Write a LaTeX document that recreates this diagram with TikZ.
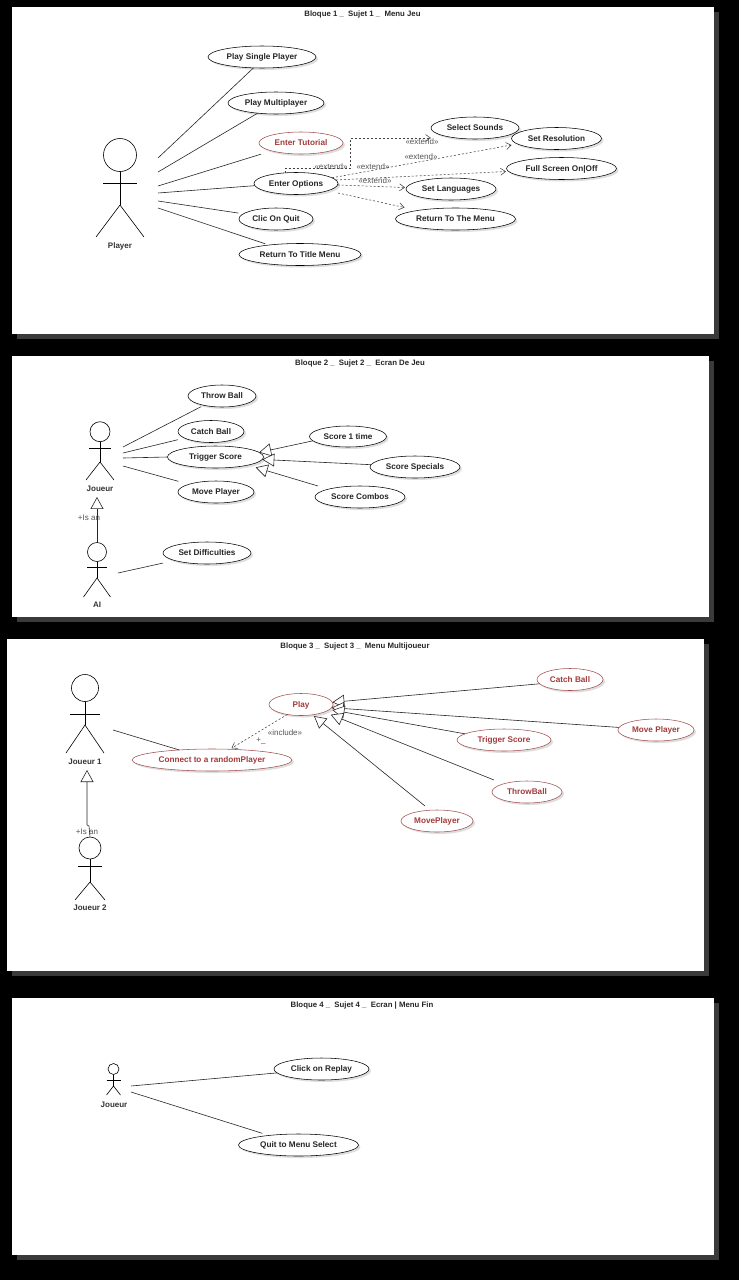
\documentclass[tikz,border=0pt]{standalone}
\usepackage{fontspec}
\setmainfont{Liberation Sans}
\usetikzlibrary{shapes.geometric,arrows.meta,shadows}
\definecolor{redtext}{HTML}{A23B3B}
\definecolor{rededge}{HTML}{A05050}
\definecolor{panelshadow}{HTML}{3A3A3A}
\definecolor{labelgray}{HTML}{555555}
\tikzset{
  x=1pt,y=-1pt,
  ucs/.style 2 args={minimum width=#1pt,minimum height=#2pt},
  uc/.style={ellipse,draw=black,line width=.55pt,fill=white,inner sep=0pt,outer sep=0pt,
    text height=6.5pt,text depth=.6pt,
    font=\fontsize{8.2}{9}\selectfont\bfseries,text=black!85,
    drop shadow={shadow xshift=2pt,shadow yshift=-2pt,fill=black!25}},
  ucred/.style={uc,draw=rededge,text=redtext},
  title/.style={font=\fontsize{7.8}{9}\selectfont\bfseries,text=black!85,inner sep=0pt},
  actorlabel/.style={font=\fontsize{8}{9}\selectfont\bfseries,text=black!80,inner sep=0pt},
  stereo/.style={font=\fontsize{8}{9}\selectfont,text=labelgray,inner sep=0pt},
  stick/.style={line width=.6pt,draw=black},
  assoc/.style={line width=.6pt,draw=black!85},
  gener/.style={line width=.6pt,draw=black!85,-{Triangle[open,fill=white,length=12pt,width=13pt]}},
  dep/.style={line width=.55pt,draw=black!75,dash pattern=on 2pt off 2pt,-{Straight Barb[length=5pt,width=7pt]}},
}
% name, cx, head cy, r, arm y, arm half, hip y, leg half, foot y
\newcommand{\umlactor}[9]{%
  \node[circle,draw=black,line width=.6pt,fill=white,inner sep=0pt,outer sep=0pt,minimum size=#4*2pt] (#1) at (#2,#3) {};
  \draw[stick] (#1.south) -- (#2,#7);
  \draw[stick] (#2-#6,#5) -- (#2+#6,#5);
  \draw[stick] (#2-#8,#9) -- (#2,#7) -- (#2+#8,#9);
}
\begin{document}
\begin{tikzpicture}
\useasboundingbox (0,0) rectangle (739,1280);
\fill[black] (0,0) rectangle (739,1280);
% panels
\fill[panelshadow] (17,12) rectangle (719,339);
\fill[white] (12,7) rectangle (714,334);
\fill[panelshadow] (17,361) rectangle (714,622);
\fill[white] (12,356) rectangle (709,617);
\fill[panelshadow] (12,644) rectangle (709,976);
\fill[white] (7,639) rectangle (704,971);
\fill[panelshadow] (17,1003) rectangle (719,1260);
\fill[white] (12,998) rectangle (714,1255);

% ---------- panel 1
\node[title] (t1) at (362.5,14.5) {Bloque 1 \_ \ Sujet 1 \_ \ Menu Jeu};
\umlactor{player}{120}{155}{16.5}{183}{17}{205}{24}{237}
\node[actorlabel] (playerl) at (120,246) {Player};
\node[uc,ucs={108}{22}] (psp) at (262,57) {Play Single Player};
\node[uc,ucs={96}{22}] (pm) at (276,103) {Play Multiplayer};
\node[ucred,ucs={84}{22}] (et) at (301,143) {Enter Tutorial};
\node[uc,ucs={84}{22}] (eo) at (296,183.5) {Enter Options};
\node[uc,ucs={74}{22}] (cq) at (276,219) {Clic On Quit};
\node[uc,ucs={122}{22}] (rt) at (300,254.5) {Return To Title Menu};
\node[uc,ucs={88}{22}] (ss) at (475,128) {Select Sounds};
\node[uc,ucs={90}{22}] (sr) at (556.5,138.5) {Set Resolution};
\node[uc,ucs={110}{22}] (fs) at (561.5,168.5) {Full Screen On|Off};
\node[uc,ucs={90}{22}] (sl) at (451,189) {Set Languages};
\node[uc,ucs={120}{22}] (rm) at (455.5,219) {Return To The Menu};
\coordinate (pa1) at (158,158);
\coordinate (pa2) at (158,172);
\coordinate (pa3) at (158,186);
\coordinate (pa4) at (158,193);
\coordinate (pa5) at (158,201);
\coordinate (pa6) at (158,208);
\draw[assoc] (pa1) -- (psp.232);
\draw[assoc] (pa2) -- (pm.209);
\draw[assoc,shorten >=11pt] (pa3) -- (et.195);
\draw[assoc] (pa4) -- (eo.183);
\draw[assoc,shorten >=5pt] (pa5) -- (cq.171);
\draw[assoc,shorten >=4pt] (pa6) -- (rt.163);
\coordinate (eos) at (285,172.5);
\coordinate (eob) at (285,168);
\coordinate (eoc) at (350,168);
\coordinate (eod) at (350,138);
\coordinate (sse) at (431,138);
\coordinate (srt) at (511.5,145);
\coordinate (fst) at (506,171.5);
\coordinate (slt) at (405,187.5);
\coordinate (rms) at (338,193);
\coordinate (rmt) at (404.5,207.5);
\draw[dep] (eos) -- (eob) -- (eoc) -- (eod) -- (sse);
\draw[dep] (eo.9) -- (srt);
\draw[dep] (eo.5) -- (fst);
\draw[dep] (eo.358) -- (slt);
\draw[dep] (rms) -- (rmt);
\node[stereo] (x1) at (331,167) {«extend»};
\node[stereo] (x2) at (373,167) {«extend»};
\node[stereo] (x3) at (375,181) {«extend»};
\node[stereo] (x4) at (422,142) {«extend»};
\node[stereo] (x5) at (421,157) {«extend»};

% ---------- panel 2
\node[title] (t2) at (360,363.5) {Bloque 2 \_ \ Sujet 2 \_ \ Ecran De Jeu};
\umlactor{joueur}{100}{431.7}{10}{448}{11}{462}{14}{480}
\node[actorlabel] (joueurl) at (100,489) {Joueur};
\umlactor{ai}{97}{552}{9.5}{567}{10}{578}{13.5}{597}
\node[actorlabel] (ail) at (97,605) {AI};
\node[uc,ucs={68}{22}] (tb) at (222,396) {Throw Ball};
\node[uc,ucs={66}{22}] (cb) at (211,431.5) {Catch Ball};
\node[uc,ucs={96}{22}] (ts) at (215.5,457) {Trigger Score};
\node[uc,ucs={76}{22}] (mp) at (216,492) {Move Player};
\node[uc,ucs={77}{21}] (s1) at (348,436.5) {Score 1 time};
\node[uc,ucs={90}{22}] (s2) at (415,467) {Score Specials};
\node[uc,ucs={90}{22}] (s3) at (360,497) {Score Combos};
\node[uc,ucs={88}{22}] (sd) at (207,553) {Set Difficulties};
\coordinate (ja1) at (123,447);
\coordinate (ja2) at (123,453);
\coordinate (ja3) at (123,458);
\coordinate (ja4) at (123,466);
\coordinate (aia) at (118,573);
\coordinate (s3s) at (318,486);
\draw[assoc,shorten >=3pt] (ja1) -- (tb.207);
\draw[assoc,shorten >=7pt] (ja2) -- (cb.194);
\draw[assoc] (ja3) -- (ts.180);
\draw[assoc,shorten >=11pt] (ja4) -- (mp.164);
\draw[assoc,shorten >=12pt] (aia) -- (sd.193);
\draw[gener] (s1.187) -- (ts.6);
\draw[gener] (s2.177) -- (ts.357);
\draw[gener,shorten >=8pt] (s3s) -- (ts.346);
\draw[gener,shorten >=5pt] (ai.north) -- (ai.north |- joueurl.south);
\node[stereo] (isa1) at (89,518) {+Is an};

% ---------- panel 3
\node[title] (t3) at (355,646.5) {Bloque 3 \_ \ Suject 3 \_ \ Menu Multijoueur};
\umlactor{j1}{85}{688}{13.5}{714}{15}{725}{19}{753}
\node[actorlabel] (j1l) at (85,762) {Joueur 1};
\umlactor{j2}{90}{848}{11}{866}{12}{882}{15}{900}
\node[actorlabel] (j2l) at (90,908) {Joueur 2};
\node[ucred,ucs={64}{22}] (play) at (301,704.5) {Play};
\node[ucred,ucs={160}{22}] (cr) at (212,760) {Connect to a randomPlayer};
\node[ucred,ucs={66}{22}] (cb3) at (570,679.5) {Catch Ball};
\node[ucred,ucs={94}{22}] (ts3) at (504,740) {Trigger Score};
\node[ucred,ucs={76}{22}] (mp3) at (656,730) {Move Player};
\node[ucred,ucs={70}{22}] (tb3) at (527,792) {ThrowBall};
\node[ucred,ucs={72}{22}] (mv3) at (437,821) {MovePlayer};
\coordinate (j1a) at (113,730);
\coordinate (tb3s) at (494,780);
\coordinate (mv3s) at (425,806);
\draw[assoc] (j1a) -- (cr.163);
\draw[dep,shorten >=2pt] (play.216) -- (cr.31);
\draw[gener] (cb3.188) -- (play.4);
\draw[gener] (mp3.176) -- (play.354);
\draw[gener,shorten >=3pt] (ts3.171) -- (play.350);
\draw[gener,shorten >=7pt] (tb3s) -- (play.342);
\draw[gener,shorten >=2pt] (mv3s) -- (play.318);
\node[stereo] (inc) at (285,733) {«include»};
\node[stereo] (incm) at (261,741) {+\_};
\coordinate (j2b1) at (89,826);
\coordinate (j2b2) at (87,825);
\coordinate (j1u) at (87,770);
\draw[gener] (j2.north) -- (j2b1) -- (j2b2) -- (j1u);
\node[stereo] (isa2) at (87,832) {+Is an};

% ---------- panel 4
\node[title] (t4) at (362,1005.5) {Bloque 4 \_ \ Sujet 4 \_ \ Ecran | Menu Fin};
\umlactor{j4}{113.5}{1069}{5.5}{1080}{7}{1086}{7}{1095}
\node[actorlabel] (j4l) at (114,1105) {Joueur};
\node[uc,ucs={95}{22}] (cr4) at (321.5,1069) {Click on Replay};
\node[uc,ucs={120}{22}] (qm) at (298.5,1145) {Quit to Menu Select};
\coordinate (j4a) at (131,1086);
\coordinate (j4b) at (131,1092);
\draw[assoc] (j4a) -- (cr4.185);
\draw[assoc,shorten >=7pt] (j4b) -- (qm.162);
\end{tikzpicture}
\end{document}
